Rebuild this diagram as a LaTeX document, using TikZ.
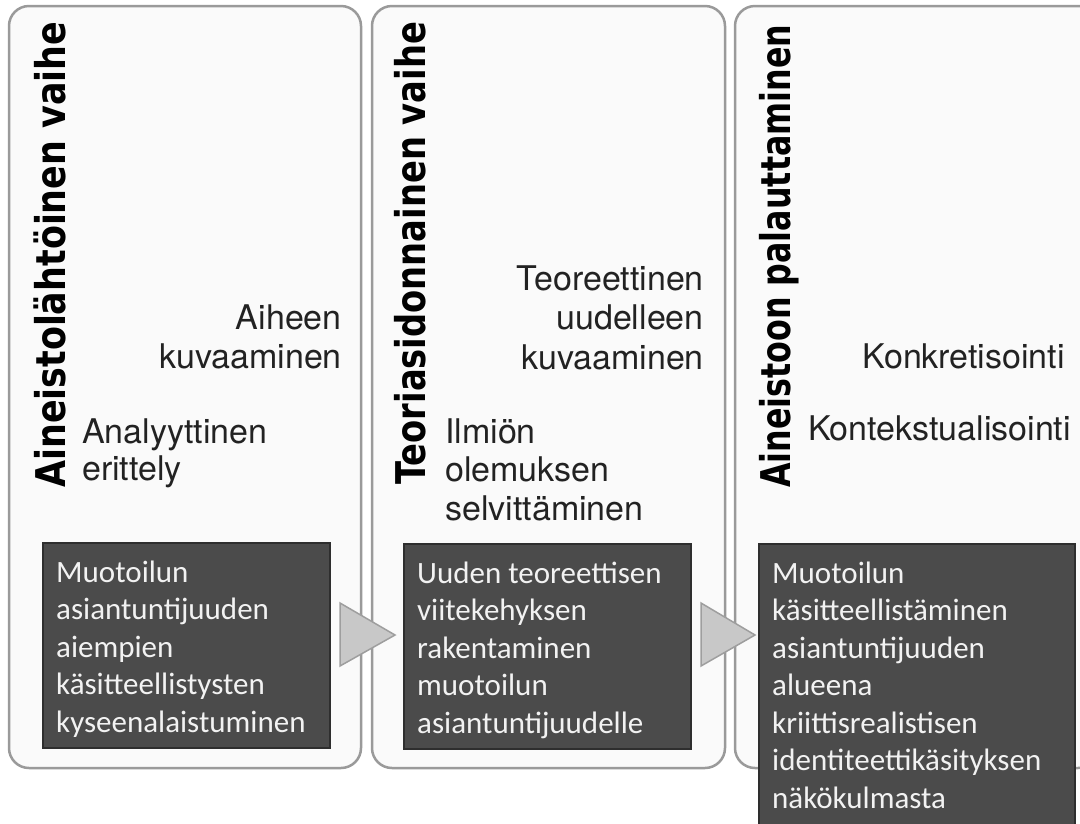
\documentclass[tikz,border=0pt]{standalone}
\usepackage{fontspec}
\setmainfont{TeX Gyre Heros}
\newfontfamily\titlefont{DejaVu Sans}
\newfontfamily\boxfont{Carlito}
\definecolor{panelfill}{HTML}{FAFAFA}
\definecolor{panelline}{HTML}{9A9A9A}
\definecolor{arrowfill}{HTML}{C8C8C8}
\definecolor{arrowline}{HTML}{9E9E9E}
\definecolor{boxfill}{HTML}{4B4B4B}
\definecolor{boxline}{HTML}{2E2E2E}
\definecolor{boxtext}{HTML}{F2F2F2}
\definecolor{lighttext}{HTML}{222222}
\begin{document}
\begin{tikzpicture}[x=1pt,y=-1pt,
  panel/.style={draw=panelline, line width=2.5pt, fill=panelfill, rounded corners=20pt},
  darkbox/.style={draw=boxline, line width=2pt, fill=boxfill},
  chev/.style={draw=arrowline, line width=1.5pt, fill=arrowfill, line join=miter},
  title/.style={rotate=90, anchor=base west, inner sep=0pt, font=\titlefont\bfseries\fontsize{41}{41}\selectfont},
  ltr/.style={inner sep=0pt, align=right, anchor=base east, font=\fontsize{34}{38.5}\selectfont, text=lighttext},
  ltl/.style={inner sep=0pt, align=left, anchor=base west, font=\fontsize{34}{38.5}\selectfont, text=lighttext},
  bt/.style={inner sep=0pt, align=left, anchor=base west, font=\boxfont\fontsize{31}{37.5}\selectfont, text=boxtext}]
\useasboundingbox[fill=white] (0,0) rectangle (1080,823);
\clip (0,0) rectangle (1080,823);
% panels
\path[panel] (9,6) coordinate (p1nw) rectangle (361,768) coordinate (p1se);
\path[panel] (372,6) coordinate (p2nw) rectangle (725,768) coordinate (p2se);
\path[panel] (735,6) coordinate (p3nw) rectangle (1098,768) coordinate (p3se);
% titles
\node[title] (t1) at (65,488) {\resizebox{466pt}{\height}{Aineistolähtöinen vaihe}};
\node[title] (t2) at (425,485) {\resizebox{463pt}{\height}{Teoriasidonnainen vaihe}};
\node[title] (t3) at (790,488) {\resizebox{463pt}{\height}{Aineistoon palauttaminen}};
% light texts (anchored at the baseline of the last line)
\node[ltr] (a1) at (342,368) {Aiheen\\kuvaaminen};
\node[ltl, font=\fontsize{34}{37}\selectfont] (a2) at (82,480) {Analyyttinen\\erittely};
\node[ltr, font=\fontsize{34}{39.5}\selectfont] (b1) at (704,369) {Teoreettinen\\uudelleen\\kuvaaminen};
\node[ltl] (b2) at (445,520) {Ilmiön\\olemuksen\\selvittäminen};
\node[ltr] (c1) at (1065,368) {Konkretisointi};
\node[ltl] (c2) at (808,440) {Kontekstualisointi};
% arrows
\path[chev] (340,603) coordinate (ar1a) -- (340,666) -- (395,635) coordinate (ar1tip) -- cycle;
\path[chev] (701,603) coordinate (ar2a) -- (701,666) -- (755,635) coordinate (ar2tip) -- cycle;
% dark boxes
\path[darkbox] (43,543) rectangle (330,748);
\node[bt] (d1) at (56,732) {Muotoilun\\asiantuntijuuden\\aiempien\\käsitteellistysten\\kyseenalaistuminen};
\path[darkbox] (404,544) rectangle (691,749);
\node[bt] (d2) at (417,733) {Uuden teoreettisen\\viitekehyksen\\rakentaminen\\muotoilun\\asiantuntijuudelle};
\path[darkbox] (759,544) rectangle (1075,860);
\node[bt] (d3) at (772,808) {Muotoilun\\käsitteellistäminen\\asiantuntijuuden\\alueena\\kriittisrealistisen\\identiteettikäsityksen\\näkökulmasta};
\end{tikzpicture}
\end{document}
